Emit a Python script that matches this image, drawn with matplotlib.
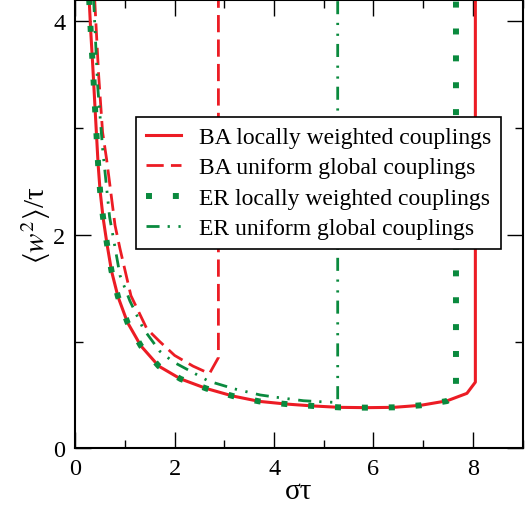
import matplotlib
matplotlib.use("Agg")
import matplotlib.pyplot as plt
from matplotlib.ticker import MultipleLocator

plt.rcParams['font.family'] = ['Liberation Serif', 'DejaVu Serif']
plt.rcParams['mathtext.fontset'] = 'stix'

# BA network, locally weighted couplings
ba_local_x = [0.27, 0.31, 0.35, 0.40, 0.46, 0.50, 0.56, 0.64, 0.73, 0.86, 1.05, 1.32, 1.68,
              2.12, 2.64, 3.17, 3.70, 4.24, 4.78, 5.31, 5.86, 6.41, 6.95, 7.48, 7.88, 8.05, 8.05]
ba_local_y = [4.30, 3.92, 3.60, 3.17, 2.66, 2.41, 2.16, 1.91, 1.66, 1.42, 1.18, 0.96, 0.77,
              0.65, 0.56, 0.49, 0.44, 0.415, 0.397, 0.384, 0.381, 0.384, 0.403, 0.445, 0.515, 0.62, 4.30]

# BA network, uniform global couplings
ba_global_x = [0.38, 0.47, 0.55, 0.63, 0.80, 0.90, 1.12, 1.44, 1.70, 2.00, 2.37, 2.70, 2.88, 2.88]
ba_global_y = [4.30, 3.50, 2.96, 2.71, 2.09, 1.87, 1.43, 1.12, 1.00, 0.87, 0.77, 0.70, 0.85, 4.30]

# ER network, locally weighted couplings
er_local_x = [0.27, 0.31, 0.35, 0.40, 0.46, 0.50, 0.56, 0.64, 0.73, 0.86, 1.05, 1.32, 1.68,
              2.12, 2.64, 3.17, 3.70, 4.24, 4.78, 5.31, 5.86, 6.41, 6.95, 7.48, 7.66, 7.66]
er_local_y = [4.30, 3.92, 3.60, 3.17, 2.66, 2.41, 2.16, 1.91, 1.66, 1.42, 1.18, 0.96, 0.77,
              0.65, 0.56, 0.49, 0.44, 0.415, 0.397, 0.384, 0.381, 0.384, 0.403, 0.443, 0.50, 4.30]

# ER network, uniform global couplings
er_global_x = [0.36, 0.45, 0.55, 0.69, 0.90, 1.10, 1.37, 1.70, 1.97, 2.37, 2.68, 3.21, 3.72,
               4.05, 4.59, 4.92, 5.25, 5.28, 5.28]
er_global_y = [4.30, 3.40, 2.81, 2.17, 1.62, 1.38, 1.12, 0.91, 0.81, 0.71, 0.63, 0.556, 0.50,
               0.478, 0.446, 0.437, 0.43, 0.43, 4.30]

labels = ['BA locally weighted couplings', 'BA uniform global couplings',
          'ER locally weighted couplings', 'ER uniform global couplings']

red = '#ec1c24'
green = '#0a8a3e'

fig = plt.figure(figsize=(5.3, 5.06), dpi=100)
ax = fig.add_axes([0.142, 0.112, 0.844, 0.886])

ax.plot(ba_local_x, ba_local_y, color=red, lw=2.2, label=labels[0])
ax.plot(ba_global_x, ba_global_y, color=red, lw=2.0, ls=(0, (6.2, 2.6)),
        dash_capstyle='butt', label=labels[1])
ax.plot(er_local_x, er_local_y, color=green, lw=4.3, ls=(0, (1, 3.5)),
        dash_capstyle='butt', label=labels[2])
ax.plot(er_global_x, er_global_y, color=green, lw=2.0,
        ls=(0, (4.7, 2.9, 0.8, 3.1, 0.8, 3.1)), dash_capstyle='butt', label=labels[3])

ax.set_xlim(0, 9)
ax.set_ylim(0, 4.2)
ax.xaxis.set_major_locator(MultipleLocator(2))
ax.xaxis.set_minor_locator(MultipleLocator(1))
ax.yaxis.set_major_locator(MultipleLocator(2))
ax.yaxis.set_minor_locator(MultipleLocator(1))
ax.tick_params(which='both', direction='in', top=True, right=True, width=1.0,
               labelsize=17.5, pad=7)
ax.tick_params(which='major', length=11.5)
ax.tick_params(which='minor', length=6)
for s in ax.spines.values():
    s.set_linewidth(1.5)

ax.set_xlabel('στ', fontsize=21, labelpad=-1)
ax.set_ylabel(r'$\langle w^2\rangle$/τ', fontsize=21, labelpad=0)

leg = ax.legend(loc='upper right', bbox_to_anchor=(0.951, 0.739), borderaxespad=0,
                fontsize=17, fancybox=False, edgecolor='black', framealpha=1,
                handlelength=1.5, handletextpad=0.75, labelspacing=0.38,
                borderpad=0.4)
leg.get_frame().set_linewidth(1.2)

fig.savefig('out.png', dpi=100)
